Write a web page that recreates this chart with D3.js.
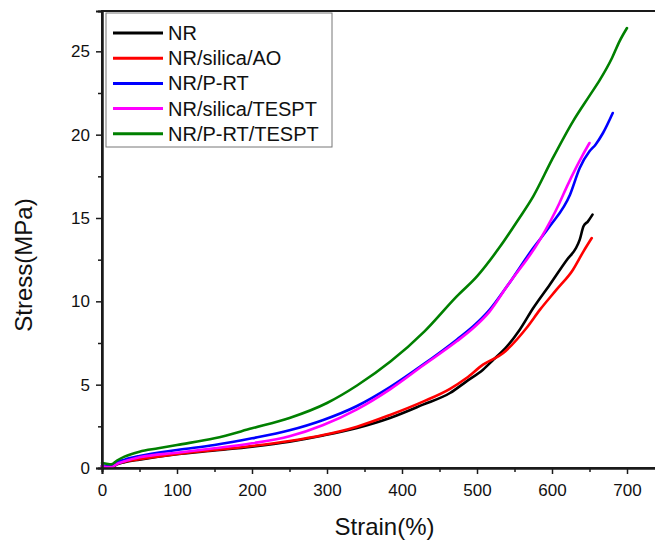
<!DOCTYPE html>
<html>
<head>
<meta charset="utf-8">
<script src="https://cdn.jsdelivr.net/npm/d3@7"></script>
<style>
  html, body { margin: 0; padding: 0; background: #fff; }
  svg { display: block; font-family: "Liberation Sans", Arial, sans-serif; }
</style>
</head>
<body>
<svg id="chart" width="655" height="541"></svg>
<script>
// Tensile stress-strain curves (strain in %, stress in MPa)
const seriesNames = ["NR", "NR/silica/AO", "NR/P-RT", "NR/silica/TESPT", "NR/P-RT/TESPT"];
const seriesColors = ["#000000", "#ff0000", "#0000ff", "#ff00ff", "#008000"];

const nrStrain = [0, 6, 13, 20, 30, 50, 100, 150, 200, 250, 295, 340, 384, 428, 464, 486, 508, 522, 540, 557, 575, 597, 620, 632, 637, 642, 648, 654];
const nrStress = [0.10, 0.05, 0.05, 0.22, 0.35, 0.50, 0.82, 1.05, 1.28, 1.58, 1.95, 2.40, 3.00, 3.80, 4.50, 5.20, 5.90, 6.50, 7.30, 8.30, 9.60, 11.00, 12.50, 13.20, 13.70, 14.50, 14.80, 15.20];

const aoStrain = [0, 6, 13, 20, 30, 50, 100, 150, 200, 250, 295, 340, 384, 428, 464, 486, 508, 535, 566, 584, 606, 628, 642, 653];
const aoStress = [0.12, 0.08, 0.06, 0.25, 0.38, 0.52, 0.84, 1.08, 1.32, 1.62, 1.98, 2.48, 3.18, 3.98, 4.75, 5.40, 6.20, 6.90, 8.40, 9.50, 10.70, 11.90, 13.00, 13.80];

const prtStrain = [0, 6, 12, 20, 30, 50, 100, 150, 200, 250, 295, 340, 384, 428, 473, 495, 517, 540, 575, 597, 624, 637, 650, 658, 668, 681];
const prtStress = [0.15, 0.12, 0.10, 0.35, 0.50, 0.72, 1.08, 1.38, 1.78, 2.26, 2.88, 3.72, 4.85, 6.20, 7.70, 8.50, 9.50, 10.90, 13.20, 14.50, 16.40, 18.00, 19.00, 19.40, 20.10, 21.30];

const tesptStrain = [0, 6, 13, 20, 30, 50, 100, 150, 200, 250, 295, 340, 384, 428, 473, 495, 517, 540, 584, 610, 620, 633, 640, 650];
const tesptStress = [0.10, 0.05, 0.05, 0.25, 0.40, 0.64, 0.92, 1.18, 1.48, 1.90, 2.58, 3.52, 4.72, 6.15, 7.60, 8.40, 9.40, 10.90, 13.70, 15.90, 16.90, 18.10, 18.70, 19.50];

const prtTesptStrain = [0, 6, 12, 20, 30, 50, 75, 100, 150, 200, 250, 300, 340, 385, 430, 473, 500, 531, 555, 575, 600, 628, 651, 664, 680, 690, 700];
const prtTesptStress = [0.30, 0.26, 0.22, 0.45, 0.68, 0.98, 1.18, 1.38, 1.78, 2.38, 3.00, 3.90, 4.95, 6.40, 8.20, 10.30, 11.50, 13.30, 14.90, 16.30, 18.50, 20.80, 22.40, 23.30, 24.60, 25.60, 26.40];

const strainTicks = [0, 100, 200, 300, 400, 500, 600, 700];
const strainMinor = [50, 150, 250, 350, 450, 550, 650];
const stressTicks = [0, 5, 10, 15, 20, 25];
const stressMinor = [2.5, 7.5, 12.5, 17.5, 22.5];

const curves = [
  [nrStrain, nrStress],
  [aoStrain, aoStress],
  [prtStrain, prtStress],
  [tesptStrain, tesptStress],
  [prtTesptStrain, prtTesptStress]
];

const svg = d3.select("#chart");
const plotLeft = 102, plotRight = 657, plotTop = 11, plotBottom = 468;

const x = d3.scaleLinear().domain([0, 740]).range([plotLeft, plotRight]);
const y = d3.scaleLinear().domain([0, 27.42]).range([plotBottom, plotTop]);

const axisColor = "#1a1a1a";

// Frame
svg.append("rect")
  .attr("x", plotLeft).attr("y", plotTop)
  .attr("width", plotRight - plotLeft).attr("height", plotBottom - plotTop)
  .attr("fill", "none").attr("stroke", axisColor).attr("stroke-width", 2);

// Curves
const line = d3.line().x(d => x(d[0])).y(d => y(d[1])).curve(d3.curveMonotoneX);
curves.forEach((c, i) => {
  const pts = c[0].map((s, k) => [s, c[1][k]]);
  svg.append("path")
    .datum(pts)
    .attr("d", line)
    .attr("fill", "none")
    .attr("stroke", seriesColors[i])
    .attr("stroke-width", 2.6)
    .attr("stroke-linejoin", "round")
    .attr("stroke-linecap", "round");
});

// Axes
function styleAxis(g) {
  g.select(".domain").attr("stroke", axisColor).attr("stroke-width", 2);
  g.selectAll(".tick line").attr("stroke", axisColor).attr("stroke-width", 1.5);
  g.selectAll(".tick text").attr("fill", "#111").style("font-size", "17px")
    .style("font-family", "'Liberation Sans', Arial, sans-serif");
}

const xAxis = svg.append("g").attr("transform", `translate(0,${plotBottom})`)
  .call(d3.axisBottom(x).tickValues(strainTicks).tickSize(6).tickPadding(10).tickFormat(d3.format("d")));
styleAxis(xAxis);
const xMinor = svg.append("g").attr("transform", `translate(0,${plotBottom})`)
  .call(d3.axisBottom(x).tickValues(strainMinor).tickSize(4).tickFormat(""));
styleAxis(xMinor);

const yAxis = svg.append("g").attr("transform", `translate(${plotLeft},0)`)
  .call(d3.axisLeft(y).tickValues(stressTicks).tickSize(6).tickPadding(6).tickFormat(d3.format("d")));
styleAxis(yAxis);
const yMinor = svg.append("g").attr("transform", `translate(${plotLeft},0)`)
  .call(d3.axisLeft(y).tickValues(stressMinor).tickSize(4).tickFormat(""));
styleAxis(yMinor);

// Axis titles
svg.append("text")
  .attr("x", (plotLeft + plotRight) / 2 + 5).attr("y", 535)
  .attr("text-anchor", "middle")
  .style("font-size", "24px").attr("fill", "#111")
  .text("Strain(%)");

svg.append("text")
  .attr("transform", "translate(32,265) rotate(-90)")
  .attr("text-anchor", "middle")
  .style("font-size", "24px").attr("fill", "#111")
  .text("Stress(MPa)");

// Legend
const legend = svg.append("g");
legend.append("rect")
  .attr("x", 106).attr("y", 13).attr("width", 226).attr("height", 134)
  .attr("fill", "#fff").attr("stroke", "#777").attr("stroke-width", 1);
seriesNames.forEach((name, i) => {
  const ly = 33 + i * 25.2;
  legend.append("line")
    .attr("x1", 113).attr("x2", 163).attr("y1", ly).attr("y2", ly)
    .attr("stroke", seriesColors[i]).attr("stroke-width", 3);
  legend.append("text")
    .attr("x", 168).attr("y", ly).attr("dy", "0.35em")
    .style("font-size", "20px").attr("fill", "#111")
    .text(name);
});
</script>
</body>
</html>
